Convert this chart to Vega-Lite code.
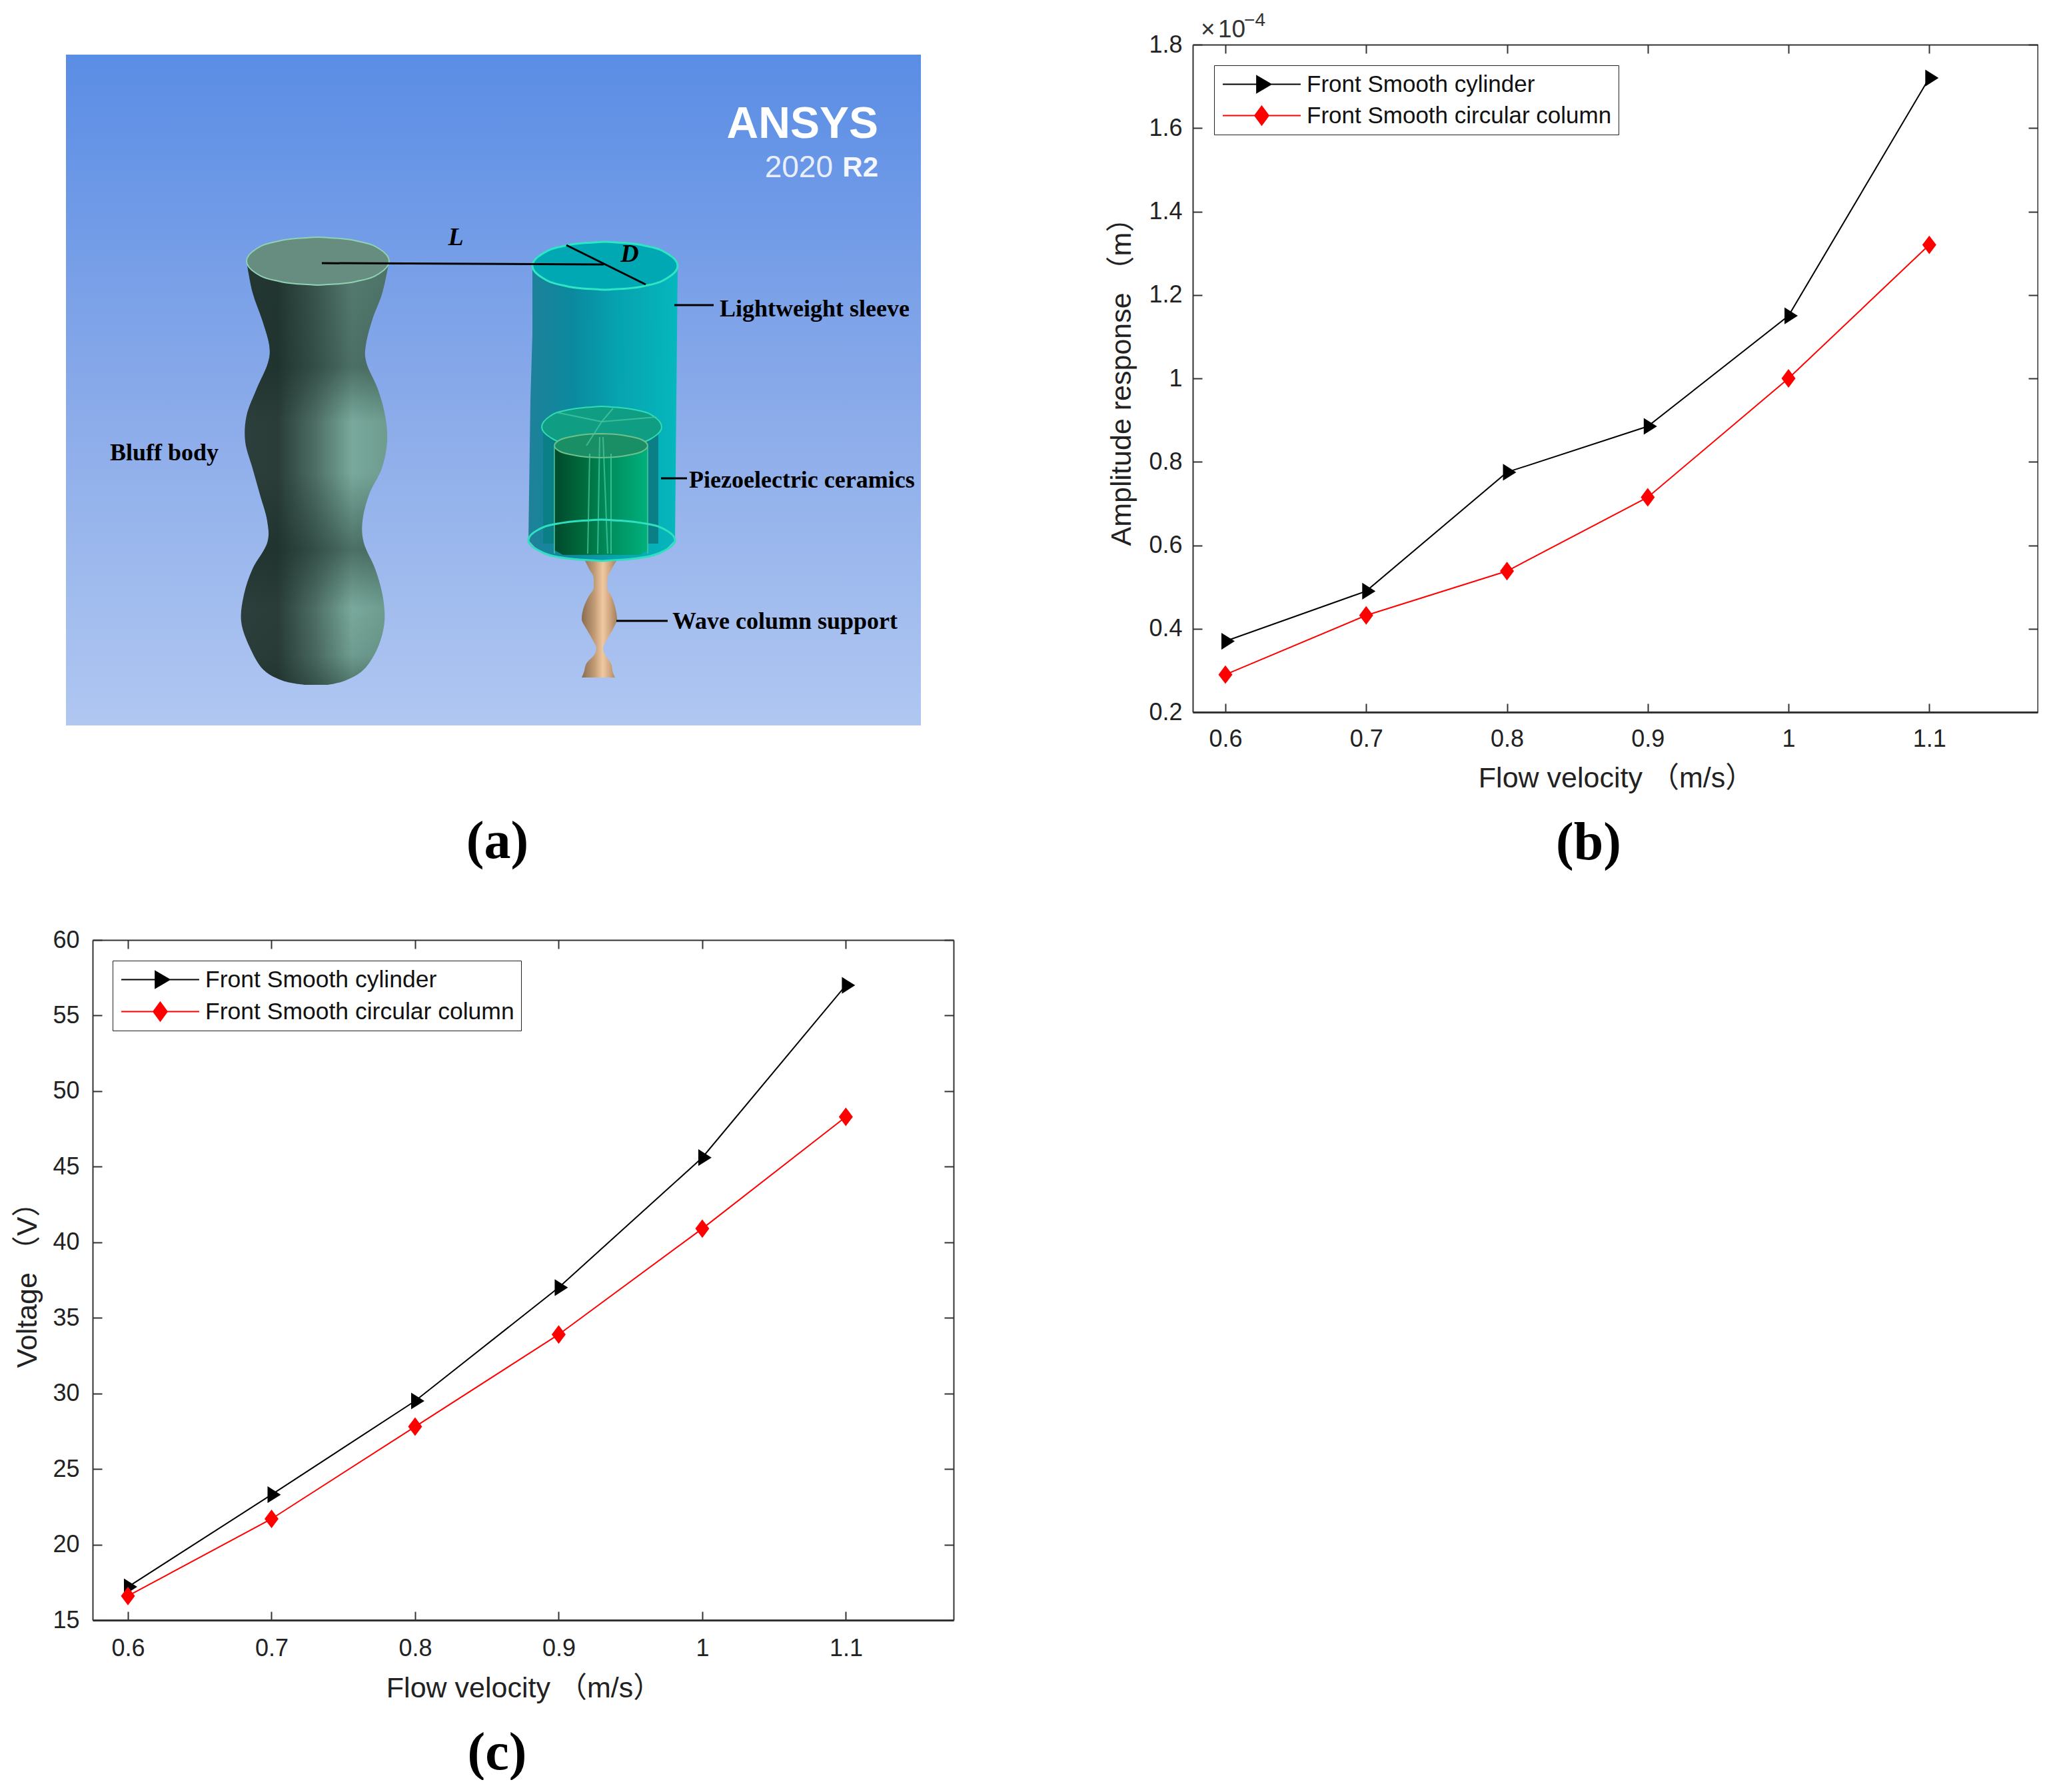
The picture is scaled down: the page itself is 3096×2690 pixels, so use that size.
{
"$schema":"https://vega.github.io/schema/vega-lite/v6.json",
"padding":{"left":20,"top":17,"right":0,"bottom":0},
"background":"white",
"bounds":"flush",
"columns":2,
"spacing":{"row":322,"column":359},
"resolve":{"scale":{"color":"independent"},"legend":{"color":"independent"}},
"config":{"view":{"stroke":null},"font":"Liberation Sans"},
"datasets":{
"amp":[
{"v":0.6,"r":0.37,"s":"Front Smooth cylinder"},{"v":0.7,"r":0.49,"s":"Front Smooth cylinder"},{"v":0.8,"r":0.775,"s":"Front Smooth cylinder"},{"v":0.9,"r":0.885,"s":"Front Smooth cylinder"},{"v":1.0,"r":1.15,"s":"Front Smooth cylinder"},{"v":1.1,"r":1.72,"s":"Front Smooth cylinder"},
{"v":0.6,"r":0.29,"s":"Front Smooth circular column"},{"v":0.7,"r":0.432,"s":"Front Smooth circular column"},{"v":0.8,"r":0.538,"s":"Front Smooth circular column"},{"v":0.9,"r":0.715,"s":"Front Smooth circular column"},{"v":1.0,"r":1.0,"s":"Front Smooth circular column"},{"v":1.1,"r":1.32,"s":"Front Smooth circular column"}],
"volt":[
{"v":0.6,"r":17.2,"s":"Front Smooth cylinder"},{"v":0.7,"r":23.3,"s":"Front Smooth cylinder"},{"v":0.8,"r":29.5,"s":"Front Smooth cylinder"},{"v":0.9,"r":37.0,"s":"Front Smooth cylinder"},{"v":1.0,"r":45.6,"s":"Front Smooth cylinder"},{"v":1.1,"r":57.0,"s":"Front Smooth cylinder"},
{"v":0.6,"r":16.6,"s":"Front Smooth circular column"},{"v":0.7,"r":21.7,"s":"Front Smooth circular column"},{"v":0.8,"r":27.8,"s":"Front Smooth circular column"},{"v":0.9,"r":33.9,"s":"Front Smooth circular column"},{"v":1.0,"r":40.9,"s":"Front Smooth circular column"},{"v":1.1,"r":48.3,"s":"Front Smooth circular column"}]
},
"concat":[
{
"width":1243,"height":1022,
"title":{"text":"(a)","orient":"bottom","anchor":"middle","font":"Liberation Serif","fontWeight":"bold","fontSize":80,"color":"#000","dx":-14,"offset":136},
"encoding":{
"x":{"field":"x","type":"quantitative","axis":null,"scale":{"domain":[139,1382],"nice":false,"zero":false}},
"y":{"field":"y","type":"quantitative","axis":null,"scale":{"domain":[66,1088],"reverse":true,"nice":false,"zero":false}}
},
"layer":[
{"data":{"values":[{"x":99,"x2":1382,"y":81,"y2":1088}]},
"mark":{"type":"rect","color":{"gradient":"linear","x1":0,"y1":0,"x2":0,"y2":1,"stops":[{"offset":0,"color":"#5a8de5"},{"offset":0.5,"color":"#88a9e9"},{"offset":1,"color":"#b0c7f1"}]}},
"encoding":{"x2":{"field":"x2"},"y2":{"field":"y2"}}},
{"data":{"values":[{"y":391,"x":370,"x2":584},{"y":438,"x":379,"x2":574},{"y":478,"x":393,"x2":559},{"y":517,"x":404,"x2":549},{"y":544,"x":402,"x2":550},{"y":583,"x":385,"x2":567},{"y":623,"x":370,"x2":578},{"y":662,"x":368,"x2":581},{"y":702,"x":379,"x2":573},{"y":741,"x":390,"x2":554},{"y":781,"x":401,"x2":544},{"y":814,"x":401,"x2":546},{"y":853,"x":379,"x2":563},{"y":892,"x":366,"x2":574},{"y":932,"x":362,"x2":577},{"y":971,"x":375,"x2":567},{"y":1004,"x":395,"x2":546},{"y":1021,"x":425,"x2":517},{"y":1027,"x":458,"x2":492}]},
"mark":{"type":"area","orient":"horizontal","interpolate":"cardinal","color":{"gradient":"linear","x1":0,"y1":0,"x2":1,"y2":0,"stops":[{"offset":0,"color":"#2c3f3c"},{"offset":0.25,"color":"#2a3d39"},{"offset":0.5,"color":"#4d6e64"},{"offset":0.75,"color":"#79a99c"},{"offset":1,"color":"#6d9c8f"}]}},
"encoding":{"x2":{"field":"x2"}}},
{"data":{"values":[{"y":391,"x":370,"x2":584},{"y":438,"x":379,"x2":574},{"y":478,"x":393,"x2":559},{"y":517,"x":404,"x2":549},{"y":544,"x":402,"x2":550},{"y":583,"x":385,"x2":567},{"y":623,"x":370,"x2":578},{"y":662,"x":368,"x2":581},{"y":702,"x":379,"x2":573},{"y":741,"x":390,"x2":554},{"y":781,"x":401,"x2":544},{"y":814,"x":401,"x2":546},{"y":853,"x":379,"x2":563},{"y":892,"x":366,"x2":574},{"y":932,"x":362,"x2":577},{"y":971,"x":375,"x2":567},{"y":1004,"x":395,"x2":546},{"y":1021,"x":425,"x2":517},{"y":1027,"x":458,"x2":492}]},
"mark":{"type":"area","orient":"horizontal","interpolate":"cardinal","color":{"gradient":"linear","x1":0,"y1":0,"x2":0,"y2":1,"stops":[{"offset":0,"color":"rgba(20,40,35,0.35)"},{"offset":0.25,"color":"rgba(20,40,35,0.45)"},{"offset":0.38,"color":"rgba(20,40,35,0)"},{"offset":0.5,"color":"rgba(20,40,35,0)"},{"offset":0.68,"color":"rgba(20,40,35,0.45)"},{"offset":0.82,"color":"rgba(20,40,35,0)"},{"offset":0.93,"color":"rgba(20,40,35,0.1)"},{"offset":1,"color":"rgba(20,40,35,0.4)"}]}},
"encoding":{"x2":{"field":"x2"}}},
{"data":{"values":[{"y":355,"x":477,"x2":477},{"y":357,"x":444,"x2":510},{"y":362,"x":413,"x2":541},{"y":373,"x":384,"x2":570},{"y":391,"x":370,"x2":584},{"y":409,"x":384,"x2":570},{"y":420,"x":413,"x2":541},{"y":425,"x":444,"x2":510},{"y":427,"x":477,"x2":477}]},
"mark":{"type":"area","orient":"horizontal","interpolate":"monotone","color":"#668d7f","stroke":"#8fd3b4","strokeWidth":2},
"encoding":{"x2":{"field":"x2"}}},
{"data":{"values":[{"y":398,"x":799,"x2":1017},{"y":500,"x":799,"x2":1016},{"y":600,"x":796,"x2":1015},{"y":810,"x":793,"x2":1013},{"y":825,"x":807,"x2":998},{"y":835,"x":837,"x2":969},{"y":841,"x":903,"x2":903}]},
"mark":{"type":"area","orient":"horizontal","opacity":0.96,"color":{"gradient":"linear","x1":0,"y1":0,"x2":1,"y2":0,"stops":[{"offset":0,"color":"#1a7f96"},{"offset":0.3,"color":"#06889c"},{"offset":0.6,"color":"#01a3ae"},{"offset":1,"color":"#00b8bc"}]}},
"encoding":{"x2":{"field":"x2"}}},
{"data":{"values":[{"y":640,"x":815,"x2":988},{"y":815,"x":815,"x2":988}]},
"mark":{"type":"area","orient":"horizontal","color":"#0b7f86"},
"encoding":{"x2":{"field":"x2"}}},
{"data":{"values":[{"y":609,"x":903,"x2":903},{"y":611,"x":875,"x2":931},{"y":615,"x":849,"x2":957},{"y":624,"x":825,"x2":981},{"y":640,"x":813,"x2":993},{"y":655,"x":825,"x2":981},{"y":665,"x":849,"x2":957},{"y":669,"x":875,"x2":931},{"y":671,"x":903,"x2":903}]},
"mark":{"type":"area","orient":"horizontal","interpolate":"monotone","color":"#0f9d84","stroke":"#2fdcb4","strokeWidth":2},
"encoding":{"x2":{"field":"x2"}}},
{"data":{"values":[{"y":668,"x":832,"x2":972},{"y":825,"x":832,"x2":972},{"y":832,"x":845,"x2":960}]},
"mark":{"type":"area","orient":"horizontal","color":{"gradient":"linear","x1":0,"y1":0,"x2":1,"y2":0,"stops":[{"offset":0,"color":"#004a2c"},{"offset":0.35,"color":"#00703f"},{"offset":0.55,"color":"#008a5a"},{"offset":1,"color":"#00b07c"}]}},
"encoding":{"x2":{"field":"x2"}}},
{"data":{"values":[{"y":650,"x":902,"x2":902},{"y":651,"x":880,"x2":924},{"y":654,"x":860,"x2":944},{"y":659,"x":841,"x2":963},{"y":668,"x":832,"x2":972},{"y":677,"x":841,"x2":963},{"y":682,"x":860,"x2":944},{"y":685,"x":880,"x2":924},{"y":686,"x":902,"x2":902}]},
"mark":{"type":"area","orient":"horizontal","interpolate":"monotone","color":"#1a8f66","stroke":"#6fc08a","strokeWidth":2},
"encoding":{"x2":{"field":"x2"}}},
{"data":{"values":[{"x":885,"y":680,"x2":882,"y2":830},{"x":900,"y":655,"x2":897,"y2":830},{"x":905,"y":655,"x2":912,"y2":830},{"x":917,"y":680,"x2":917,"y2":830},{"x":832,"y":668,"x2":832,"y2":830},{"x":972,"y":668,"x2":972,"y2":830},{"x":903,"y":632,"x2":835,"y2":618},{"x":903,"y":632,"x2":920,"y2":612},{"x":903,"y":632,"x2":985,"y2":625},{"x":903,"y":632,"x2":880,"y2":668}]},
"mark":{"type":"rule","color":"#48c8a0","strokeWidth":2,"opacity":0.75},
"encoding":{"x2":{"field":"x2"},"y2":{"field":"y2"}}},
{"data":{"values":[{"y":841,"x":878,"x2":925},{"y":853,"x":884,"x2":918},{"y":867,"x":891,"x2":912},{"y":881,"x":891,"x2":911},{"y":895,"x":883,"x2":918},{"y":914,"x":875,"x2":924},{"y":928,"x":873,"x2":926},{"y":943,"x":880,"x2":920},{"y":957,"x":888,"x2":912},{"y":973,"x":895,"x2":905},{"y":980,"x":893,"x2":907},{"y":995,"x":880,"x2":917},{"y":1009,"x":876,"x2":920},{"y":1016,"x":873,"x2":923}]},
"mark":{"type":"area","orient":"horizontal","interpolate":"monotone","color":{"gradient":"linear","x1":0,"y1":0,"x2":1,"y2":0,"stops":[{"offset":0,"color":"#8a6c50"},{"offset":0.35,"color":"#c09a74"},{"offset":0.6,"color":"#f0c8a0"},{"offset":0.8,"color":"#d0a680"},{"offset":1,"color":"#a0805c"}]}},
"encoding":{"x2":{"field":"x2"}}},
{"data":{"values":[{"y":779,"x":903,"x2":903},{"y":781,"x":869,"x2":937},{"y":785,"x":837,"x2":969},{"y":794,"x":808,"x2":998},{"y":810,"x":793,"x2":1013},{"y":825,"x":808,"x2":998},{"y":835,"x":837,"x2":969},{"y":839,"x":869,"x2":937},{"y":841,"x":903,"x2":903}]},
"mark":{"type":"area","orient":"horizontal","interpolate":"monotone","fillOpacity":0,"stroke":"#2fe0c0","strokeWidth":3},
"encoding":{"x2":{"field":"x2"}}},
{"data":{"values":[{"y":362,"x":908,"x2":908},{"y":364,"x":874,"x2":942},{"y":369,"x":843,"x2":973},{"y":380,"x":814,"x2":1002},{"y":398,"x":799,"x2":1017},{"y":416,"x":814,"x2":1002},{"y":427,"x":843,"x2":973},{"y":432,"x":874,"x2":942},{"y":434,"x":908,"x2":908}]},
"mark":{"type":"area","orient":"horizontal","interpolate":"monotone","color":"#00a8b4","stroke":"#2fe6c4","strokeWidth":3},
"encoding":{"x2":{"field":"x2"}}},
{"data":{"values":[{"x":483,"y":394,"x2":906,"y2":396},{"x":850,"y":367,"x2":969,"y2":426},{"x":1012,"y":457,"x2":1071,"y2":457},{"x":992,"y":717,"x2":1031,"y2":717},{"x":925,"y":931,"x2":1002,"y2":931}]},
"mark":{"type":"rule","color":"#000","strokeWidth":3},
"encoding":{"x2":{"field":"x2"},"y2":{"field":"y2"}}},
{"data":{"values":[{"x":1080,"y":463,"t":"Lightweight sleeve"},{"x":1034,"y":720,"t":"Piezoelectric ceramics"},{"x":1009,"y":932,"t":"Wave column support"},{"x":165,"y":679,"t":"Bluff body"}]},
"mark":{"type":"text","align":"left","baseline":"middle","font":"Liberation Serif","fontWeight":"bold","fontSize":36,"color":"#000"},
"encoding":{"text":{"field":"t"}}},
{"data":{"values":[{"x":684,"y":356,"t":"L"},{"x":945,"y":381,"t":"D"}]},
"mark":{"type":"text","align":"center","baseline":"middle","font":"Liberation Serif","fontWeight":"bold","fontStyle":"italic","fontSize":38,"color":"#000"},
"encoding":{"text":{"field":"t"}}},
{"data":{"values":[{"x":1318,"y":186,"t":"ANSYS"}]},
"mark":{"type":"text","align":"right","baseline":"middle","font":"Liberation Sans","fontWeight":"bold","fontSize":66,"color":"#fff"},
"encoding":{"text":{"field":"t"}}},
{"data":{"values":[{"x":1250,"y":251,"t":"2020"}]},
"mark":{"type":"text","align":"right","baseline":"middle","font":"Liberation Sans","fontSize":46,"color":"#e9effa"},
"encoding":{"text":{"field":"t"}}},
{"data":{"values":[{"x":1318,"y":251,"t":"R2"}]},
"mark":{"type":"text","align":"right","baseline":"middle","font":"Liberation Sans","fontWeight":"bold","fontSize":42,"color":"#f4f7fd"},
"encoding":{"text":{"field":"t"}}}
]
},
{
"width":1268,"height":1002,
"data":{"name":"amp"},
"title":{"text":"(b)","orient":"bottom","anchor":"middle","font":"Liberation Serif","fontWeight":"bold","fontSize":80,"color":"#000","dx":-40,"offset":37},
"resolve":{"axis":{"x":"independent","y":"independent"}},
"layer":[
{"mark":{"type":"line","strokeWidth":2},
"encoding":{
"x":{"field":"v","type":"quantitative","scale":{"domain":[0.5768,1.177],"nice":false,"zero":false},"axis":{"orient":"bottom","title":"Flow velocity （m/s）","titleFont":"Liberation Sans, Noto Sans CJK SC","titleFontSize":43,"titleFontWeight":"normal","titleColor":"#222","titleX":635,"titleY":99,"titleBaseline":"middle","values":[0.6,0.7,0.8,0.9,1,1.1],"format":"~g","labelFont":"Liberation Sans","labelFontSize":36,"labelColor":"#222","labelPadding":36,"labelFlush":false,"tickSize":-13,"tickWidth":2,"tickColor":"#333","domainWidth":3,"domainColor":"#333","grid":false}},
"y":{"field":"r","type":"quantitative","scale":{"domain":[0.2,1.8],"nice":false,"zero":false},"axis":{"orient":"left","title":"Amplitude response （m）","titleFont":"Liberation Sans, Noto Sans CJK SC","titleFontSize":43,"titleFontWeight":"normal","titleColor":"#222","titleX":-107,"titleY":495,"titleBaseline":"middle","values":[0.2,0.4,0.6,0.8,1,1.2,1.4,1.6,1.8],"format":"~g","labelFont":"Liberation Sans","labelFontSize":36,"labelColor":"#222","labelPadding":30,"labelFlush":false,"tickSize":-14,"tickWidth":2,"tickColor":"#333","domainWidth":2,"domainColor":"#333","grid":false}},
"color":{"field":"s","type":"nominal","scale":{"domain":["Front Smooth cylinder","Front Smooth circular column"],"range":["#000000","#ff0000"]},
"legend":{"title":null,"orient":"none","legendX":32,"legendY":31,"strokeColor":"#222","fillColor":"#fff","padding":10,"rowPadding":10,"symbolSize":1225,"symbolOffset":43,"labelOffset":49,"labelFont":"Liberation Sans","labelFontSize":35,"labelColor":"#111","labelLimit":600,
"encoding":{"symbols":{"shape":{"value":{"expr":"datum.value==='Front Smooth cylinder'?'M-3.34,0L3.34,0M-0.42,-0.71L0.79,0L-0.42,0.71Z':'M-3.34,0L3.34,0M0,-0.8L0.59,0L0,0.8L-0.59,0Z'"}},"fill":{"value":{"expr":"datum.value==='Front Smooth cylinder'?'#000':'#f00'"}},"strokeWidth":{"value":2},"opacity":{"value":1}}}}}
}},
{"transform":[{"filter":"datum.s==='Front Smooth cylinder'"}],
"mark":{"type":"point","filled":true,"size":441,"opacity":1,"color":"#000","shape":"M-0.57,-1.2L1.33,0L-0.57,1.2Z"},
"encoding":{
"x":{"field":"v","type":"quantitative","axis":{"orient":"top","title":null,"labels":false,"values":[0.6,0.7,0.8,0.9,1,1.1],"tickSize":-13,"tickWidth":2,"tickColor":"#333","domainWidth":2,"domainColor":"#333","grid":false}},
"y":{"field":"r","type":"quantitative","axis":{"orient":"right","title":null,"labels":false,"values":[0.2,0.4,0.6,0.8,1,1.2,1.4,1.6,1.8],"tickSize":-14,"tickWidth":2,"tickColor":"#333","domainWidth":2,"domainColor":"#333","grid":false}}
}},
{"transform":[{"filter":"datum.s==='Front Smooth circular column'"}],
"mark":{"type":"point","filled":true,"size":441,"opacity":1,"color":"#f00","shape":"M0,-1.33L1,0L0,1.33L-1,0Z"},
"encoding":{
"x":{"field":"v","type":"quantitative","axis":null},
"y":{"field":"r","type":"quantitative","axis":null}
}},
{"data":{"values":[{"v":0.5825,"r":1.8,"t":"×"},{"v":0.5948,"r":1.8,"t":"10"}]},
"mark":{"type":"text","align":"left","baseline":"alphabetic","dy":-11,"fontSize":37,"font":"Liberation Sans","color":"#333"},
"encoding":{"x":{"field":"v","type":"quantitative","axis":null},"y":{"field":"r","type":"quantitative","axis":null},"text":{"field":"t"}}},
{"data":{"values":[{"v":0.6133,"r":1.8,"t":"−4"}]},
"mark":{"type":"text","align":"left","baseline":"alphabetic","dy":-28,"fontSize":28,"font":"Liberation Sans","color":"#333"},
"encoding":{"x":{"field":"v","type":"quantitative","axis":null},"y":{"field":"r","type":"quantitative","axis":null},"text":{"field":"t"}}}
]
},
{
"width":1292,"height":1021,
"data":{"name":"volt"},
"title":{"text":"(c)","orient":"bottom","anchor":"middle","font":"Liberation Serif","fontWeight":"bold","fontSize":80,"color":"#000","dx":-39,"offset":37},
"resolve":{"axis":{"x":"independent","y":"independent"}},
"layer":[
{"mark":{"type":"line","strokeWidth":2},
"encoding":{
"x":{"field":"v","type":"quantitative","scale":{"domain":[0.5754,1.175],"nice":false,"zero":false},"axis":{"orient":"bottom","title":"Flow velocity （m/s）","titleFont":"Liberation Sans, Noto Sans CJK SC","titleFontSize":43,"titleFontWeight":"normal","titleColor":"#222","titleX":647,"titleY":102,"titleBaseline":"middle","values":[0.6,0.7,0.8,0.9,1,1.1],"format":"~g","labelFont":"Liberation Sans","labelFontSize":36,"labelColor":"#222","labelPadding":38,"labelFlush":false,"tickSize":-13,"tickWidth":2,"tickColor":"#333","domainWidth":3,"domainColor":"#333","grid":false}},
"y":{"field":"r","type":"quantitative","scale":{"domain":[15,60],"nice":false,"zero":false},"axis":{"orient":"left","title":"Voltage （V）","titleFont":"Liberation Sans, Noto Sans CJK SC","titleFontSize":43,"titleFontWeight":"normal","titleColor":"#222","titleX":-98,"titleY":507,"titleBaseline":"middle","values":[15,20,25,30,35,40,45,50,55,60],"labelFont":"Liberation Sans","labelFontSize":36,"labelColor":"#222","labelPadding":34,"labelFlush":false,"tickSize":-14,"tickWidth":2,"tickColor":"#333","domainWidth":2,"domainColor":"#333","grid":false}},
"color":{"field":"s","type":"nominal","scale":{"domain":["Front Smooth cylinder","Front Smooth circular column"],"range":["#000000","#ff0000"]},
"legend":{"title":null,"orient":"none","legendX":30,"legendY":31,"strokeColor":"#222","fillColor":"#fff","padding":10,"rowPadding":11,"symbolSize":1225,"symbolOffset":43,"labelOffset":49,"labelFont":"Liberation Sans","labelFontSize":35.5,"labelColor":"#111","labelLimit":600,
"encoding":{"symbols":{"shape":{"value":{"expr":"datum.value==='Front Smooth cylinder'?'M-3.34,0L3.34,0M-0.42,-0.71L0.79,0L-0.42,0.71Z':'M-3.34,0L3.34,0M0,-0.8L0.59,0L0,0.8L-0.59,0Z'"}},"fill":{"value":{"expr":"datum.value==='Front Smooth cylinder'?'#000':'#f00'"}},"strokeWidth":{"value":2},"opacity":{"value":1}}}}}
}},
{"transform":[{"filter":"datum.s==='Front Smooth cylinder'"}],
"mark":{"type":"point","filled":true,"size":441,"opacity":1,"color":"#000","shape":"M-0.57,-1.2L1.33,0L-0.57,1.2Z"},
"encoding":{
"x":{"field":"v","type":"quantitative","axis":{"orient":"top","title":null,"labels":false,"values":[0.6,0.7,0.8,0.9,1,1.1],"tickSize":-13,"tickWidth":2,"tickColor":"#333","domainWidth":2,"domainColor":"#333","grid":false}},
"y":{"field":"r","type":"quantitative","axis":{"orient":"right","title":null,"labels":false,"values":[15,20,25,30,35,40,45,50,55,60],"tickSize":-14,"tickWidth":2,"tickColor":"#333","domainWidth":2,"domainColor":"#333","grid":false}}
}},
{"transform":[{"filter":"datum.s==='Front Smooth circular column'"}],
"mark":{"type":"point","filled":true,"size":441,"opacity":1,"color":"#f00","shape":"M0,-1.33L1,0L0,1.33L-1,0Z"},
"encoding":{
"x":{"field":"v","type":"quantitative","axis":null},
"y":{"field":"r","type":"quantitative","axis":null}
}}
]
}
]
}
